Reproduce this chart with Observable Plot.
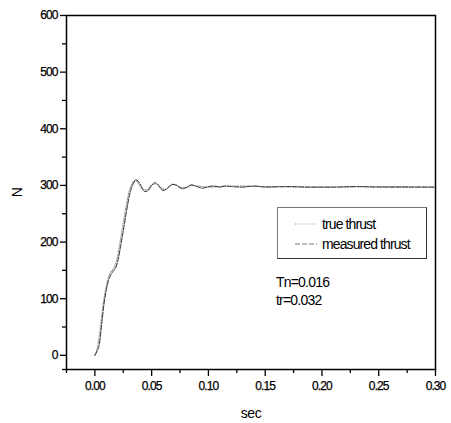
<!DOCTYPE html>
<html>
<head>
<meta charset="utf-8">
<script src="https://cdn.jsdelivr.net/npm/d3@7"></script>
<script src="https://cdn.jsdelivr.net/npm/@observablehq/plot@0.6"></script>
<style>
  html, body { margin: 0; padding: 0; background: #fff; }
  #wrap { position: relative; width: 451px; height: 423px; font-family: "Liberation Sans", Arial, sans-serif; }
  #legend { position: absolute; left: 277px; top: 207px; width: 150px; height: 52px; box-sizing: border-box;
    border: 1px solid #777; border-right-color: #333; border-bottom-color: #333; background: #fff; }
  .row { position: absolute; left: 0; height: 18px; display: flex; align-items: center; font-size: 14px; letter-spacing: -0.9px; color: #000; }
  .row svg { margin-left: 17px; margin-right: 5px; }
  .note { position: absolute; left: 276px; font-size: 14px; letter-spacing: -0.8px; color: #000; }
</style>
</head>
<body>
<div id="wrap"></div>
<script>
// Measured thrust response (s, N)
const measuredT = [0, 0.002, 0.004, 0.006, 0.008, 0.010, 0.012, 0.014, 0.016, 0.018, 0.020, 0.022, 0.024, 0.026, 0.028, 0.030, 0.032, 0.034, 0.036, 0.038, 0.041, 0.044, 0.047, 0.050, 0.053, 0.056, 0.060, 0.064, 0.068, 0.072, 0.077, 0.081, 0.085, 0.090, 0.095, 0.100, 0.105, 0.110, 0.115, 0.120, 0.130, 0.140, 0.150, 0.170, 0.190, 0.210, 0.230, 0.250, 0.270, 0.300];
const measuredN = [0, 8, 20, 55, 90, 115, 132, 142, 148, 153, 165, 185, 208, 232, 256, 278, 294, 304, 310, 308, 298, 289, 291, 300, 305, 300, 291, 295, 302, 300, 294, 297, 301, 298, 295, 298, 299, 297, 299, 298, 297, 299, 297, 298, 297, 297, 298, 297, 297, 297];

// True thrust (s, N)
const trueT = [0, 0.002, 0.004, 0.006, 0.008, 0.010, 0.012, 0.014, 0.016, 0.018, 0.020, 0.022, 0.024, 0.026, 0.028, 0.030, 0.032, 0.034, 0.036, 0.039, 0.042, 0.046, 0.050, 0.054, 0.058, 0.062, 0.066, 0.070, 0.075, 0.080, 0.085, 0.090, 0.100, 0.120, 0.150, 0.200, 0.250, 0.300];
const trueN = [0, 12, 35, 70, 100, 122, 138, 147, 152, 160, 175, 198, 222, 246, 268, 288, 300, 307, 308, 302, 293, 292, 301, 303, 296, 293, 299, 302, 297, 296, 300, 299, 297, 299, 298, 297, 298, 297];

// Axis ticks
const xTicks = [0, 0.05, 0.10, 0.15, 0.20, 0.25, 0.30];
const xMinor = [-0.025, 0.025, 0.075, 0.125, 0.175, 0.225, 0.275];
const yTicks = [0, 100, 200, 300, 400, 500, 600];
const yMinor = [-25, 50, 150, 250, 350, 450, 550];

const seriesNames = ["true thrust", "measured thrust"];
const notes = ["Tn=0.016", "tr=0.032"];

const measured = measuredT.map((t, i) => ({t, n: measuredN[i]}));
const truth = trueT.map((t, i) => ({t, n: trueN[i]}));

const font = "Liberation Sans, Arial, sans-serif";

const chart = Plot.plot({
  width: 451,
  height: 423,
  marginLeft: 66,
  marginRight: 16,
  marginTop: 15,
  marginBottom: 54,
  style: {fontFamily: font, fontSize: "12px", background: "#fff", color: "#000"},
  x: {domain: [-0.025, 0.30]},
  y: {domain: [-25, 600]},
  marks: [
    Plot.line(truth, {x: "t", y: "n", stroke: "#9a9a9a", strokeWidth: 1.2, strokeDasharray: "1,1.5", curve: "monotone-x"}),
    Plot.line(measured, {x: "t", y: "n", stroke: "#333", strokeWidth: 1, strokeDasharray: "5,1.5", curve: "monotone-x"}),
    Plot.axisX({ticks: xTicks, tickSize: 7, tickPadding: 5, tickFormat: d3.format(".2f"), strokeWidth: 1.3,
      label: "sec", labelAnchor: "center", labelArrow: "none", labelOffset: 48, fontSize: 12}),
    Plot.axisX({ticks: xMinor, tickSize: 4, tickFormat: null, label: null, text: null, strokeWidth: 1.3}),
    Plot.axisY({ticks: yTicks, tickSize: 6, tickPadding: 3, tickFormat: d3.format("d"), strokeWidth: 1.3,
      label: "N", labelAnchor: "center", labelArrow: "none", labelOffset: 54, fontSize: 12}),
    Plot.axisY({ticks: yMinor, tickSize: 4, tickFormat: null, label: null, text: null, strokeWidth: 1.3}),
    Plot.frame({stroke: "#000", strokeWidth: 1.5})
  ]
});

const wrap = document.getElementById("wrap");
wrap.appendChild(chart);

// Tighten the tick label spacing and enlarge axis titles
chart.querySelectorAll("g[aria-label='x-axis tick label'] text, g[aria-label='y-axis tick label'] text")
  .forEach(t => { t.setAttribute("letter-spacing", "-0.9"); t.setAttribute("stroke", "#000"); t.setAttribute("stroke-width", "0.25"); });
chart.querySelectorAll("g[aria-label='x-axis label'] text, g[aria-label='y-axis label'] text")
  .forEach(t => { t.setAttribute("font-size", "14"); t.setAttribute("letter-spacing", "-0.5"); });

// Legend box inside the plot area
const legend = document.createElement("div");
legend.id = "legend";
const styles = [
  {stroke: "#9a9a9a", dash: "1,1.5"},
  {stroke: "#777", dash: "5,2"}
];
seriesNames.forEach((name, i) => {
  const row = document.createElement("div");
  row.className = "row";
  row.style.top = (7 + i * 20) + "px";
  row.innerHTML = `<svg width="22" height="4"><line x1="0" y1="2" x2="22" y2="2" stroke="${styles[i].stroke}" stroke-width="1" stroke-dasharray="${styles[i].dash}"/></svg><span>${name}</span>`;
  legend.appendChild(row);
});
wrap.appendChild(legend);

notes.forEach((txt, i) => {
  const d = document.createElement("div");
  d.className = "note";
  d.style.top = (274 + i * 18) + "px";
  d.textContent = txt;
  wrap.appendChild(d);
});
</script>
</body>
</html>
